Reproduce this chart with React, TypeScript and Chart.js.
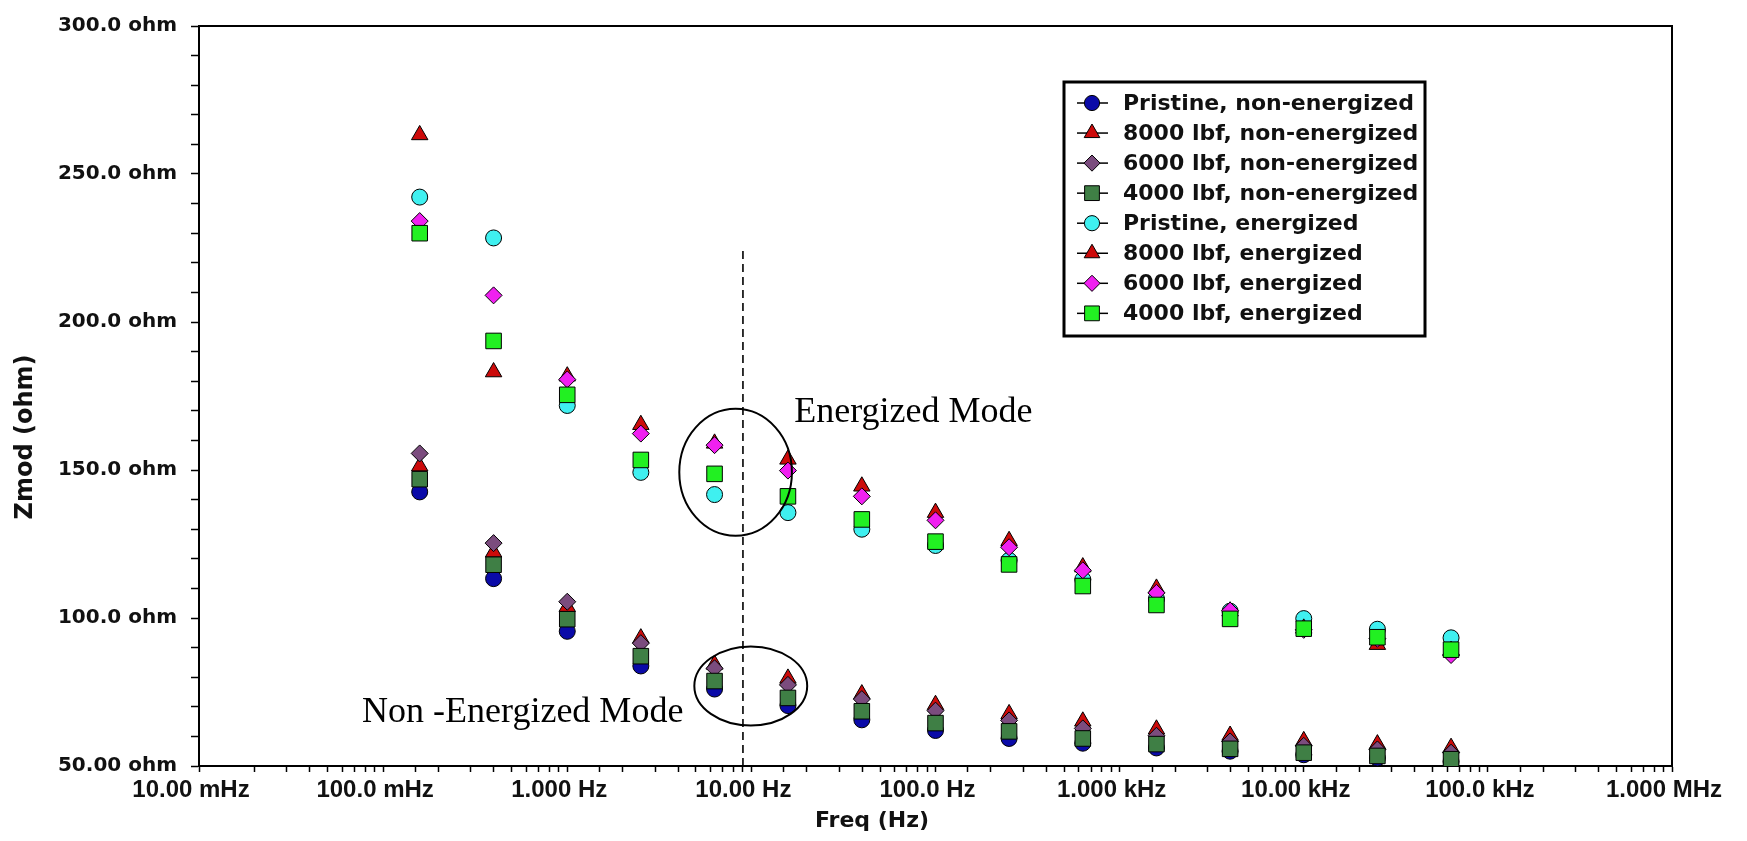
import React, { useEffect, useRef } from "react";
import { Chart, registerables } from "chart.js";

Chart.register(...registerables);

// ---- data ----
const freqHz = [0.158, 0.398, 1.0, 2.51, 6.31, 15.8, 39.8, 100, 251, 631, 1585, 3981, 10000, 25119, 63096];

const pristineNonEnergized = [142.6, 113.3, 95.5, 83.8, 76.0, 70.4, 65.6, 62.0, 59.3, 57.7, 56.1, 55.0, 53.8, 52.7, 51.5];
const lbf8000NonEnergized = [151.3, 122.2, 103.8, 93.2, 84.3, 79.6, 74.3, 70.7, 67.6, 65.1, 62.4, 60.3, 58.5, 57.4, 56.2];
const lbf6000NonEnergized = [155.6, 125.3, 105.5, 91.5, 83.0, 77.4, 72.6, 68.7, 65.4, 62.7, 60.2, 58.3, 56.8, 55.6, 54.5];
const lbf4000NonEnergized = [146.9, 118.0, 99.6, 87.1, 78.7, 73.0, 68.5, 64.5, 61.7, 59.3, 57.4, 55.8, 54.5, 53.4, 52.3];

const pristineEnergized = [242.2, 228.4, 171.8, 149.2, 141.7, 135.6, 130.0, 124.5, 119.5, 113.0, 106.5, 102.3, 99.8, 96.2, 93.3];
const lbf8000Energized = [263.2, 183.1, 181.7, 165.3, 159.0, 153.6, 144.5, 135.6, 126.1, 117.2, 110.0, 102.3, 96.5, 91.0, 89.0];
const lbf6000Energized = [234.1, 209.0, 180.6, 162.3, 158.4, 149.8, 141.1, 133.0, 123.9, 116.1, 108.5, 102.5, 96.0, 93.0, 87.5];
const lbf4000Energized = [230.0, 193.6, 175.4, 153.4, 148.7, 141.1, 133.3, 125.8, 118.1, 110.8, 104.4, 99.7, 96.4, 93.5, 89.3];

const seriesLabels = [
  "Pristine, non-energized",
  "8000 lbf, non-energized",
  "6000 lbf, non-energized",
  "4000 lbf, non-energized",
  "Pristine, energized",
  "8000 lbf, energized",
  "6000 lbf, energized",
  "4000 lbf, energized",
];
const seriesValues = [
  pristineNonEnergized,
  lbf8000NonEnergized,
  lbf6000NonEnergized,
  lbf4000NonEnergized,
  pristineEnergized,
  lbf8000Energized,
  lbf6000Energized,
  lbf4000Energized,
];

const xTickValues = [0.01, 0.1, 1, 10, 100, 1000, 10000, 100000, 1000000];
const xTickLabels = ["10.00 mHz", "100.0 mHz", "1.000 Hz", "10.00 Hz", "100.0 Hz", "1.000 kHz", "10.00 kHz", "100.0 kHz", "1.000 MHz"];
const yTickValues = [50, 100, 150, 200, 250, 300];
const yTickLabels = ["50.00 ohm", "100.0 ohm", "150.0 ohm", "200.0 ohm", "250.0 ohm", "300.0 ohm"];

const xTitle = "Freq (Hz)";
const yTitle = "Zmod (ohm)";

// annotations in data units
const dividerFreq = 9;
const dividerTopOhm = 224;
const energizedEllipse = { fMin: 4.06, fMax: 16.6, zMin: 127.8, zMax: 170.7 };
const nonEnergizedEllipse = { fMin: 4.9, fMax: 20.1, zMin: 63.7, zMax: 90.4 };
const energizedText = { text: "Energized Mode", f: 17.1, z: 166.3 };
const nonEnergizedText = { text: "Non -Energized Mode", f: 0.0769, z: 64.7 };

// ---- styles ----
const styles = [
  { shape: "circle", fill: "#0a0aa8", r: 8 },
  { shape: "triangle", fill: "#cc0a0a", r: 9.5 },
  { shape: "rectRot", fill: "#7b4c7e", r: 8.5 },
  { shape: "rect", fill: "#3f7f45", r: 11 },
  { shape: "circle", fill: "#3ff0f0", r: 8 },
  { shape: "triangle", fill: "#cc0a0a", r: 9.5 },
  { shape: "rectRot", fill: "#f020f0", r: 8.5 },
  { shape: "rect", fill: "#22f022", r: 11 },
];

function drawMarker(ctx: CanvasRenderingContext2D, shape: string, x: number, y: number, r: number, fill: string) {
  ctx.beginPath();
  if (shape === "circle") {
    ctx.arc(x, y, r, 0, Math.PI * 2);
  } else if (shape === "triangle") {
    ctx.moveTo(x, y - r);
    ctx.lineTo(x + r * 0.866, y + r / 2);
    ctx.lineTo(x - r * 0.866, y + r / 2);
    ctx.closePath();
  } else if (shape === "rectRot") {
    ctx.moveTo(x - r, y);
    ctx.lineTo(x, y - r);
    ctx.lineTo(x + r, y);
    ctx.lineTo(x, y + r);
    ctx.closePath();
  } else {
    const s = r * Math.SQRT1_2;
    ctx.rect(x - s, y - s, 2 * s, 2 * s);
  }
  ctx.fillStyle = fill;
  ctx.fill();
  ctx.lineWidth = 1;
  ctx.strokeStyle = "#000";
  ctx.stroke();
}

const decorPlugin = {
  id: "decor",
  afterDatasetsDraw(chart: any) {
    const { ctx, chartArea, scales } = chart;
    const xs = scales.x;
    const ys = scales.y;
    ctx.save();
    // frame top & right
    ctx.strokeStyle = "#000";
    ctx.lineWidth = 2;
    ctx.beginPath();
    ctx.moveTo(chartArea.left, chartArea.top);
    ctx.lineTo(chartArea.right, chartArea.top);
    ctx.lineTo(chartArea.right, chartArea.bottom);
    ctx.stroke();

    // dashed divider
    const dx = xs.getPixelForValue(dividerFreq);
    ctx.setLineDash([8, 5]);
    ctx.lineWidth = 1.6;
    ctx.beginPath();
    ctx.moveTo(dx, ys.getPixelForValue(dividerTopOhm));
    ctx.lineTo(dx, chartArea.bottom);
    ctx.stroke();
    ctx.setLineDash([]);

    // ellipses
    for (const e of [energizedEllipse, nonEnergizedEllipse]) {
      const x1 = xs.getPixelForValue(e.fMin);
      const x2 = xs.getPixelForValue(e.fMax);
      const y1 = ys.getPixelForValue(e.zMax);
      const y2 = ys.getPixelForValue(e.zMin);
      ctx.beginPath();
      ctx.ellipse((x1 + x2) / 2, (y1 + y2) / 2, (x2 - x1) / 2, (y2 - y1) / 2, 0, 0, Math.PI * 2);
      ctx.lineWidth = 2;
      ctx.stroke();
    }

    // annotation texts
    ctx.fillStyle = "#000";
    ctx.font = '36px "Liberation Serif"';
    ctx.textAlign = "left";
    ctx.textBaseline = "alphabetic";
    for (const t of [energizedText, nonEnergizedText]) {
      ctx.fillText(t.text, xs.getPixelForValue(t.f), ys.getPixelForValue(t.z));
    }
    ctx.restore();
  },
  afterDraw(chart: any) {
    const { ctx } = chart;
    ctx.save();
    // axis titles
    ctx.fillStyle = "#111";
    ctx.font = 'bold 22px "DejaVu Sans"';
    ctx.textAlign = "center";
    ctx.textBaseline = "middle";
    ctx.fillText(xTitle, 872, 821);
    ctx.font = 'bold 24px "DejaVu Sans"';
    ctx.translate(26, 437);
    ctx.rotate(-Math.PI / 2);
    ctx.fillText(yTitle, 0, 0);
    ctx.restore();

    // legend
    ctx.save();
    const bx = 1064, by = 82, bw = 361, bh = 254;
    ctx.fillStyle = "#fff";
    ctx.fillRect(bx, by, bw, bh);
    ctx.strokeStyle = "#000";
    ctx.lineWidth = 3;
    ctx.strokeRect(bx, by, bw, bh);
    ctx.font = 'bold 22px "DejaVu Sans"';
    ctx.textAlign = "left";
    ctx.textBaseline = "middle";
    seriesLabels.forEach((label, i) => {
      const y = 103 + i * 30.05;
      ctx.strokeStyle = "#000";
      ctx.lineWidth = 1.5;
      ctx.beginPath();
      ctx.moveTo(1077, y);
      ctx.lineTo(1108, y);
      ctx.stroke();
      const s = styles[i];
      drawMarker(ctx, s.shape, 1092, y, s.r * 0.95, s.fill);
      ctx.fillStyle = "#111";
      ctx.fillText(label, 1123, y + 1);
    });
    ctx.restore();
  },
};

export default function App() {
  const canvasRef = useRef<HTMLCanvasElement | null>(null);

  useEffect(() => {
    const canvas = canvasRef.current;
    if (!canvas) return;
    const datasets = seriesValues.map((vals, i) => ({
      label: seriesLabels[i],
      data: vals.map((v, j) => ({ x: freqHz[j], y: v })),
      showLine: false,
      pointStyle: styles[i].shape,
      pointRadius: styles[i].r,
      pointHoverRadius: styles[i].r,
      pointBackgroundColor: styles[i].fill,
      pointBorderColor: "#000",
      pointBorderWidth: 1,
      backgroundColor: styles[i].fill,
      borderColor: "#000",
      order: 8 - i,
    }));

    const chart = new Chart(canvas, {
      type: "scatter",
      data: { datasets },
      options: {
        animation: false,
        responsive: false,
        devicePixelRatio: 1,
        layout: { padding: { left: 0, top: 18, right: 75, bottom: 0 } },
        plugins: {
          legend: { display: false },
          tooltip: { enabled: false },
        },
        scales: {
          x: {
            type: "logarithmic",
            min: 0.01,
            max: 1000000,
            afterFit: (s: any) => {
              s.height = 75;
            },
            grid: {
              display: true,
              drawOnChartArea: false,
              drawTicks: true,
              tickLength: 6,
              tickWidth: 1.5,
              tickColor: "#000",
            },
            border: { display: true, color: "#000", width: 2 },
            ticks: {
              autoSkip: false,
              maxRotation: 0,
              minRotation: 0,
              padding: 4,
              labelOffset: -8,
              color: "#111",
              font: { family: "Liberation Sans", weight: "bold", size: 24 },
              callback: (v: any) => {
                const val = Number(v);
                const idx = xTickValues.findIndex((t) => Math.abs(t - val) / t < 1e-6);
                return idx >= 0 ? xTickLabels[idx] : "";
              },
            },
          },
          y: {
            type: "linear",
            min: 50,
            max: 300,
            afterFit: (s: any) => {
              s.width = 199;
            },
            grid: {
              display: true,
              drawOnChartArea: false,
              drawTicks: true,
              tickLength: 8,
              tickWidth: 1.5,
              tickColor: "#000",
            },
            border: { display: true, color: "#000", width: 2 },
            ticks: {
              stepSize: 10,
              autoSkip: false,
              padding: 14,
              color: "#111",
              font: { family: "DejaVu Sans", weight: "bold", size: 20 },
              callback: (v: any) => {
                const idx = yTickValues.indexOf(Math.round(Number(v)));
                return idx >= 0 ? yTickLabels[idx] : "";
              },
            },
          },
        },
      },
      plugins: [decorPlugin],
    } as any);

    return () => chart.destroy();
  }, []);

  return (
    <div style={{ position: "fixed", left: 0, top: 0, width: 1747, height: 841, background: "#fff" }}>
      <canvas ref={canvasRef} width={1747} height={841} style={{ width: 1747, height: 841, display: "block" }} />
    </div>
  );
}
